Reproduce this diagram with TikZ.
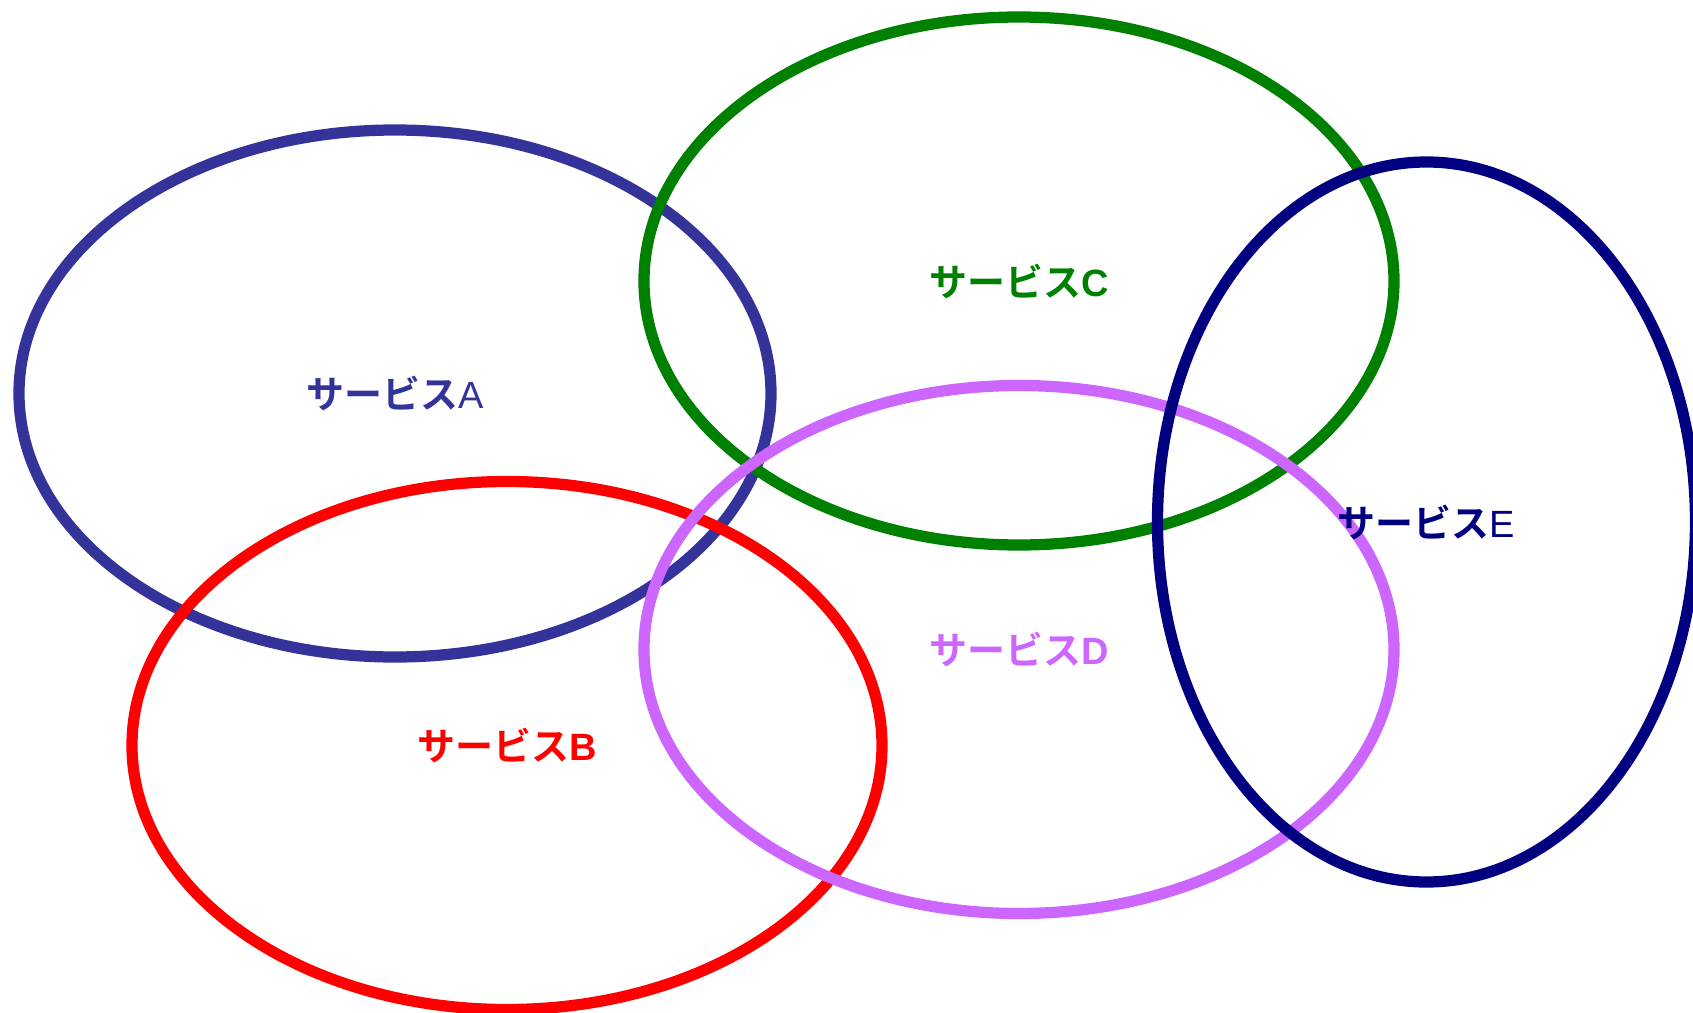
\documentclass[tikz,border=0pt]{standalone}
\usepackage{fontspec}
\setmainfont{Liberation Sans}
\newfontfamily\jpfont{Noto Sans CJK JP Bold}
\usetikzlibrary{calc}
\usepackage{tkz-euclide}

\definecolor{svcA}{RGB}{51,51,153}
\definecolor{svcB}{RGB}{255,0,0}
\definecolor{svcC}{RGB}{0,128,0}
\definecolor{svcD}{RGB}{204,102,255}
\definecolor{svcE}{RGB}{0,0,128}

\tikzset{
  ring/.style={line width=3.2pt},
  svclabel/.style={font=\fontsize{10.8}{13}\selectfont,inner sep=0pt}
}

\begin{document}
\begin{tikzpicture}
\useasboundingbox (0,0) rectangle (16.93,-10.13);

\tkzDefPoints{3.95/-3.935/OA,5.07/-7.455/OB,10.19/-2.81/OC,10.19/-6.495/OD,14.265/-5.22/OE}

% the five services
\draw[ring,svcA] (OA) ellipse [x radius=3.76,y radius=2.635];
\draw[ring,svcB] (OB) ellipse [x radius=3.75,y radius=2.64];
\draw[ring,svcC] (OC) ellipse [x radius=3.75,y radius=2.64];
\draw[ring,svcD] (OD) ellipse [x radius=3.75,y radius=2.64];
\draw[ring,svcE] (OE) ellipse [x radius=2.69,y radius=3.60];

\node[svclabel,text=svcA] (labA) at (OA) {{\jpfont サービス}A};
\node[svclabel,text=svcB] (labB) at (OB) {{\jpfont サービス}\textbf{B}};
\node[svclabel,text=svcC] (labC) at (OC) {{\jpfont サービス}\textbf{C}};
\node[svclabel,text=svcD] (labD) at (OD) {{\jpfont サービス}\textbf{D}};
\node[svclabel,text=svcE] (labE) at (OE) {{\jpfont サービス}E};

\end{tikzpicture}
\end{document}
